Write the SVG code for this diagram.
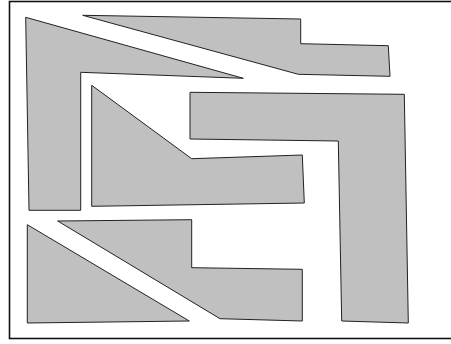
<svg xmlns="http://www.w3.org/2000/svg" width="451" height="344" viewBox="0 0 451 344">
<style>
.piece{fill:#c0c0c0;stroke:#222;stroke-width:1;stroke-linejoin:miter}
.frame{fill:none;stroke:#111;stroke-width:1.6}
</style>
<rect width="451" height="344" fill="#fff"/>
<rect class="frame" x="9.5" y="1.5" width="444" height="337"/>
<g id="piece-top-left"><polygon class="piece" points="25.7,17.3 243.3,78.3 80.7,72.3 80.7,210.3 29,210.3"/></g>
<g id="piece-top-right"><polygon class="piece" points="82.7,15.3 300.7,19 300.7,43.7 388.3,45.7 390,76.3 298.3,74.3"/></g>
<g id="piece-right"><polygon class="piece" points="190,92.3 404.3,94.3 408.3,323 341.7,321 338.3,141 190,139"/></g>
<g id="piece-middle"><polygon class="piece" points="91.7,85.3 191.7,158.7 302.3,155 304.3,203 91.7,206.3"/></g>
<g id="piece-bottom-middle"><polygon class="piece" points="57.7,221 191.7,219.7 191.7,267.7 302.3,269.3 302.3,321 220,318.7"/></g>
<g id="piece-bottom-left"><polygon class="piece" points="27.3,224.7 189.3,321 27.3,323"/></g>
<g id="connectors"></g>
</svg>
